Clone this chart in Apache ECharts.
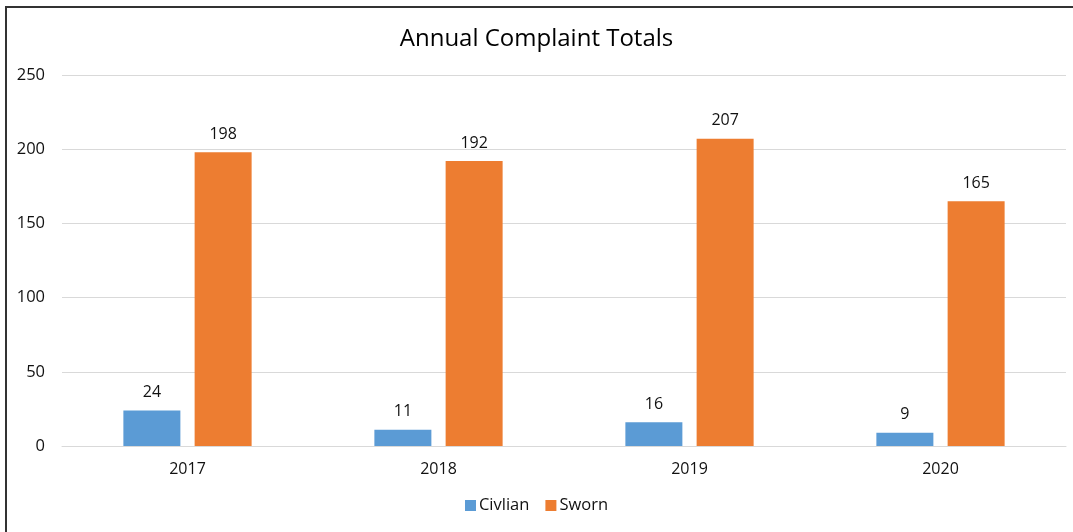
<!DOCTYPE html>
<html>
<head>
<meta charset="utf-8">
<script src="https://cdn.jsdelivr.net/npm/echarts@6/dist/echarts.min.js"></script>
<style>
  html, body { margin: 0; padding: 0; background: #fff; overflow: hidden; }
  #frame { position: absolute; left: 5px; top: 6px; width: 1066px; height: 524px;
           border-left: 2px solid #333; border-top: 2px solid #333; }
  #chart { position: absolute; left: 0; top: 0; width: 1073px; height: 532px; }
</style>
</head>
<body>
<div id="frame"></div>
<div id="chart"></div>
<script>
// 数据
const years = ['2017', '2018', '2019', '2020'];
const civilian = [24, 11, 16, 9];
const sworn = [198, 192, 207, 165];
const yTicks = [0, 50, 100, 150, 200, 250];

const font = '"Open Sans", "Noto Sans", sans-serif';
const textColor = '#111';

const chart = echarts.init(document.getElementById('chart'));
chart.setOption({
    animation: false,
    textStyle: { fontFamily: font },
    title: {
        text: 'Annual Complaint Totals',
        left: 'center',
        top: 22,
        textStyle: { fontSize: 24, fontWeight: 'normal', color: '#000', fontFamily: font }
    },
    legend: {
        bottom: 13,
        left: 'center',
        itemWidth: 11,
        itemHeight: 11,
        itemGap: 16,
        icon: 'rect',
        textStyle: { fontSize: 16.5, color: textColor, fontFamily: font, padding: [0, 0, 0, -2] },
        data: ['Civlian', 'Sworn']
    },
    grid: { left: 62, right: 7, top: 75, bottom: 86 },
    xAxis: {
        type: 'category',
        data: years,
        axisLine: { show: true, lineStyle: { color: '#d9d9d9' } },
        axisTick: { show: false },
        axisLabel: { color: textColor, fontSize: 16, margin: 15 }
    },
    yAxis: {
        type: 'value',
        min: yTicks[0],
        max: yTicks[yTicks.length - 1],
        interval: 50,
        axisLine: { show: false },
        axisTick: { show: false },
        splitLine: { lineStyle: { color: '#d9d9d9' } },
        axisLabel: { color: textColor, fontSize: 16.5, margin: 17 }
    },
    series: [
        {
            name: 'Civlian',
            type: 'bar',
            data: civilian,
            barWidth: 57,
            barGap: '25%',
            itemStyle: { color: '#5B9BD5' },
            label: { show: true, position: 'top', distance: 10, color: textColor, fontSize: 16 }
        },
        {
            name: 'Sworn',
            type: 'bar',
            data: sworn,
            barWidth: 57,
            barGap: '25%',
            itemStyle: { color: '#ED7D31' },
            label: { show: true, position: 'top', distance: 10, color: textColor, fontSize: 16 }
        }
    ]
});
</script>
</body>
</html>
